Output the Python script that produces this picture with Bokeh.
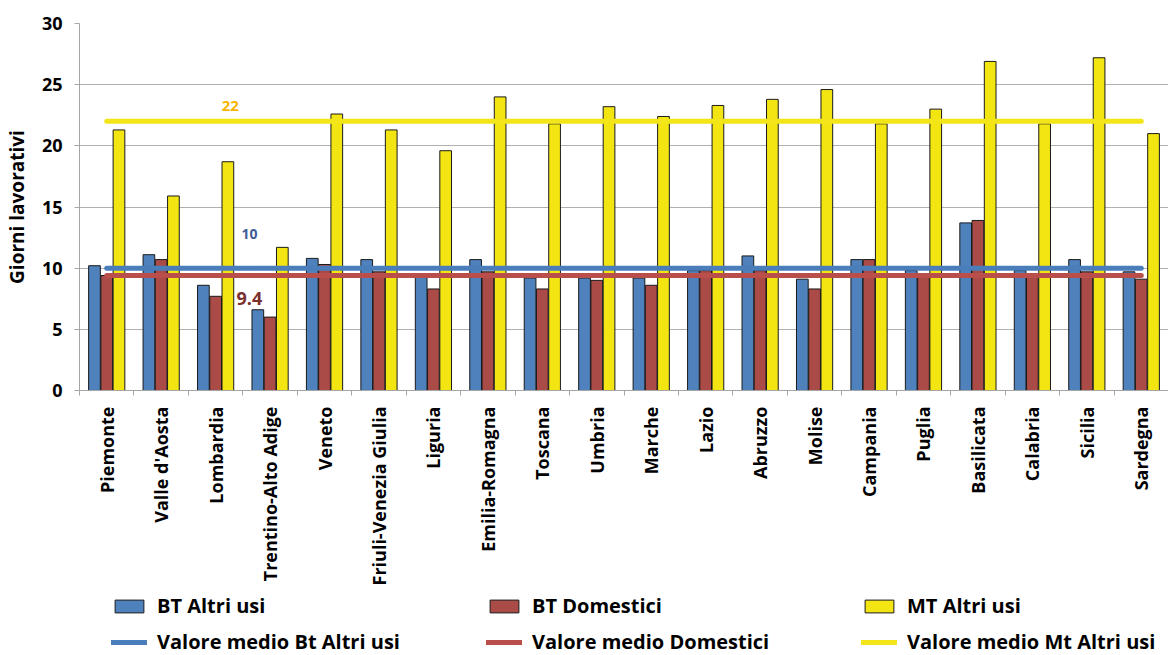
from bokeh.plotting import figure
from bokeh.layouts import column
from bokeh.models import ColumnDataSource, FixedTicker, Legend, LegendItem, Range1d
from bokeh.embed import file_html
from bokeh.resources import INLINE
from bokeh.core.properties import value
from bokeh.transform import dodge

regions = ["Piemonte", "Valle d'Aosta", "Lombardia", "Trentino-Alto Adige", "Veneto",
           "Friuli-Venezia Giulia", "Liguria", "Emilia-Romagna", "Toscana", "Umbria",
           "Marche", "Lazio", "Abruzzo", "Molise", "Campania", "Puglia", "Basilicata",
           "Calabria", "Sicilia", "Sardegna"]
bt_altri = [10.2, 11.1, 8.6, 6.6, 10.8, 10.7, 9.4, 10.7, 9.2, 9.2, 9.2, 9.8, 11.0, 9.1, 10.7, 9.8, 13.7, 9.8, 10.7, 9.7]
bt_dom = [9.4, 10.7, 7.7, 6.0, 10.3, 9.7, 8.3, 9.7, 8.3, 9.0, 8.6, 9.8, 9.8, 8.3, 10.7, 9.5, 13.9, 9.5, 9.7, 9.1]
mt_altri = [21.3, 15.9, 18.7, 11.7, 22.6, 21.3, 19.6, 24.0, 21.8, 23.2, 22.4, 23.3, 23.8, 24.6, 21.8, 23.0, 26.9, 21.8, 27.2, 21.0]
mean_bt_altri = 10
mean_bt_dom = 9.4
mean_mt_altri = 22
y_ticks = [0, 5, 10, 15, 20, 25, 30]
series_labels = ["BT Altri usi", "BT Domestici", "MT Altri usi"]
mean_labels = ["Valore medio Bt Altri usi", "Valore medio Domestici", "Valore medio Mt Altri usi"]

FONT = "Open Sans"
BAR_COLORS = ["#4F81BD", "#AA4B48", "#F3E512"]
LINE_COLORS = ["#4A7EBB", "#B94E4B", "#F2E61A"]
n = len(regions)
xc = [i + 0.5 for i in range(n)]
src = ColumnDataSource(dict(x=xc, bt_altri=bt_altri, bt_dom=bt_dom, mt_altri=mt_altri))

p = figure(frame_width=1089, frame_height=367, output_backend="svg", toolbar_location=None,
           x_range=Range1d(0, n), y_range=Range1d(0, 30),
           min_border_top=23, min_border_right=0, min_border_left=7, min_border_bottom=0)
p.outline_line_color = None

W = 0.215
p.vbar(x=dodge("x", -0.225, range=p.x_range), top="bt_altri", width=W, source=src,
       fill_color=BAR_COLORS[0], line_color="#1a1a1a", line_width=1)
p.vbar(x="x", top="bt_dom", width=W, source=src,
       fill_color=BAR_COLORS[1], line_color="#1a1a1a", line_width=1)
p.vbar(x=dodge("x", 0.225, range=p.x_range), top="mt_altri", width=W, source=src,
       fill_color=BAR_COLORS[2], line_color="#1a1a1a", line_width=1)

x_line = [xc[0], xc[-1]]
for mv, c in zip([mean_bt_altri, mean_bt_dom, mean_mt_altri], LINE_COLORS):
    p.line(x_line, [mv] * 2, line_color=c, line_width=5, line_cap="round")

# value labels for the mean lines
i_lab = regions.index("Lombardia")
p.text(x=[i_lab + 0.77], y=[mean_mt_altri + 1.25], text=[str(mean_mt_altri)],
       text_font=value(FONT), text_font_style="bold", text_font_size="15px",
       text_color="#F5B500", text_align="center", text_baseline="middle")
p.text(x=[i_lab + 1.12], y=[mean_bt_altri + 2.83], text=[str(mean_bt_altri)],
       text_font=value(FONT), text_font_style="bold", text_font_size="14px",
       text_color="#3E5C98", text_align="center", text_baseline="middle")
p.text(x=[i_lab + 1.12], y=[mean_bt_dom - 1.85], text=[str(mean_bt_dom)],
       text_font=value(FONT), text_font_style="bold", text_font_size="18px",
       text_color="#7A2F2C", text_align="center", text_baseline="middle")

# axes
p.yaxis.ticker = FixedTicker(ticks=y_ticks)
p.yaxis.axis_label = "Giorni lavorativi"
p.yaxis.axis_label_text_font = FONT
p.yaxis.axis_label_text_font_style = "bold"
p.yaxis.axis_label_text_font_size = "19px"
p.yaxis.axis_label_text_color = "black"
p.yaxis.axis_label_standoff = 9
p.yaxis.major_label_text_font = FONT
p.yaxis.major_label_text_font_style = "bold"
p.yaxis.major_label_text_font_size = "18px"
p.yaxis.major_label_text_color = "black"
p.yaxis.major_label_standoff = 12
p.yaxis.axis_line_color = "#A6A6A6"
p.yaxis.major_tick_line_color = "#A6A6A6"
p.yaxis.major_tick_out = 5
p.yaxis.major_tick_in = 0
p.yaxis.minor_tick_line_color = None

p.xaxis.ticker = FixedTicker(ticks=xc, minor_ticks=list(range(n + 1)))
p.xaxis.major_label_overrides = {x: r for x, r in zip(xc, regions)}
p.xaxis.major_label_orientation = 3.14159265 / 2
p.xaxis.major_label_text_font = FONT
p.xaxis.major_label_text_font_style = "bold"
p.xaxis.major_label_text_font_size = "18px"
p.xaxis.major_label_text_color = "black"
p.xaxis.major_label_standoff = 10
p.xaxis.axis_line_color = "#A6A6A6"
p.xaxis.major_tick_line_color = None
p.xaxis.minor_tick_line_color = "#A6A6A6"
p.xaxis.minor_tick_out = 5
p.xaxis.minor_tick_in = 0

p.xgrid.grid_line_color = None
p.ygrid.ticker = FixedTicker(ticks=y_ticks)
p.ygrid.grid_line_color = "#B0B0B0"
p.ygrid.grid_line_width = 1

# legend strip below the chart (swatch renderers sit outside the visible range)
leg = figure(width=1171, height=67, output_backend="svg", toolbar_location=None,
             x_range=Range1d(0, 1), y_range=Range1d(0, 1),
             min_border=0, x_axis_type=None, y_axis_type=None)
leg.outline_line_color = None
leg.grid.grid_line_color = None
sw = [leg.vbar(x=[-5], top=[-5], bottom=[-6], width=0.1, fill_color=c,
               line_color="#1a1a1a", line_width=1) for c in BAR_COLORS]
ml = [leg.line(x=[-6, -5], y=[-5, -5], line_color=c, line_width=5, line_cap="round")
      for c in LINE_COLORS]
items = [LegendItem(label=l, renderers=[r]) for l, r in zip(series_labels, sw)] + \
        [LegendItem(label=l, renderers=[r]) for l, r in zip(mean_labels, ml)]
legend = Legend(items=items, orientation="horizontal", ncols=3, location=(32, 0))
legend.margin = 0
legend.padding = 0
legend.border_line_color = None
legend.background_fill_alpha = 0
legend.glyph_width = 36
legend.glyph_height = 16
legend.label_height = 26
legend.label_width = 320
legend.label_standoff = 10
legend.spacing = 9
legend.label_text_font = FONT
legend.label_text_font_style = "bold"
legend.label_text_font_size = "20px"
legend.label_text_color = "black"
leg.add_layout(legend, "center")

layout = column(p, leg, spacing=0)
open("out.html", "w").write(file_html(layout, INLINE))
